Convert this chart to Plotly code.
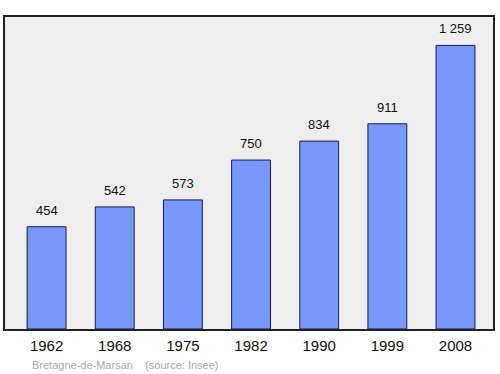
import plotly.graph_objects as go

years = ["1962", "1968", "1975", "1982", "1990", "1999", "2008"]
population = [454, 542, 573, 750, 834, 911, 1259]
labels = [f"{v:,}".replace(",", " ") for v in population]
source_text = "Bretagne-de-Marsan    (source: Insee)"

fig = go.Figure()
fig.add_trace(go.Bar(
    x=list(range(len(years))), y=population, width=0.57,
    marker=dict(color="#7799ff", line=dict(color="#1a1a4d", width=1)),
    hoverinfo="skip",
))
for i, (v, t) in enumerate(zip(population, labels)):
    fig.add_annotation(x=i, y=v, text=t, showarrow=False, yanchor="bottom",
                       yshift=7, font=dict(family="Liberation Sans, Arial", size=13, color="#111"))
fig.add_annotation(x=0, xref="paper", xanchor="left", xshift=25, y=0, yref="paper",
                   yanchor="top", yshift=-28, text=source_text, showarrow=False,
                   font=dict(family="Liberation Sans, Arial", size=11, color="#aaaaaa"))

fig.update_layout(
    width=500, height=374,
    margin=dict(l=5, r=5, t=17, b=45),
    paper_bgcolor="white", plot_bgcolor="#eeeeee",
    showlegend=False,
    xaxis=dict(range=[-0.61, 6.55], tickvals=list(range(len(years))), ticktext=years,
               showgrid=False, zeroline=False, showline=True, mirror=True,
               linecolor="#222", linewidth=1.5, ticks="", ticklen=0, ticklabelstandoff=2,
               tickfont=dict(family="Liberation Sans, Arial", size=15, color="#111")),
    yaxis=dict(range=[0, 1385], showgrid=False, zeroline=False, showticklabels=False,
               showline=True, mirror=True, linecolor="#222", linewidth=1.5, ticks=""),
)
fig.write_html("out.html")
